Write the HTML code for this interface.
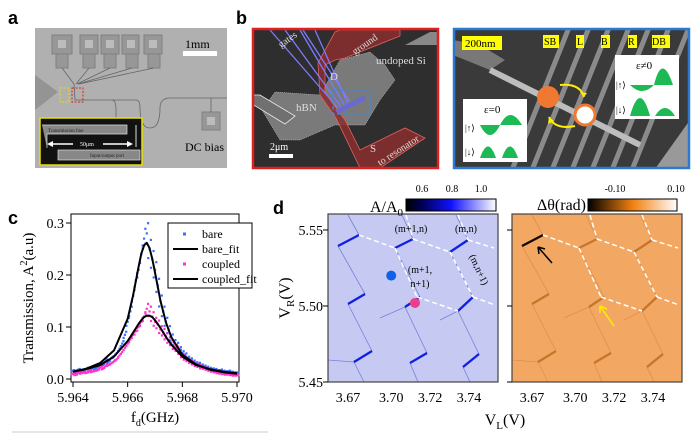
<!DOCTYPE html>
<html><head><meta charset="utf-8"><style>
body{margin:0;background:#fff;width:700px;height:436px;overflow:hidden}
svg{display:block}
.ser{font-family:"Liberation Serif",serif}
.sans{font-family:"Liberation Sans",sans-serif}
</style></head><body>
<svg id="fig" width="700" height="436" viewBox="0 0 700 436" xmlns="http://www.w3.org/2000/svg">
<defs>
<linearGradient id="gBlue" x1="0" x2="1"><stop offset="0" stop-color="#000"/><stop offset="0.2" stop-color="#000060"/><stop offset="0.5" stop-color="#1010ff"/><stop offset="1" stop-color="#fff"/></linearGradient>
<linearGradient id="gOr" x1="0" x2="1"><stop offset="0" stop-color="#000"/><stop offset="0.5" stop-color="#f08010"/><stop offset="1" stop-color="#fff"/></linearGradient>
<clipPath id="clipB1"><rect x="252" y="28" width="187" height="141"/></clipPath>
<clipPath id="clipB2"><rect x="453" y="28" width="237" height="141"/></clipPath>
</defs>

<!-- Panel a -->
<text class="sans" x="8" y="24" font-size="18" font-weight="bold">a</text>
<g>
<rect x="35" y="28" width="192" height="140" fill="#b0b0b0"/>
<g fill="#979797" stroke="#808080" stroke-width="1">
<rect x="52" y="35" width="20" height="19"/><rect x="80" y="35" width="18" height="19"/><rect x="101" y="35" width="18" height="19"/><rect x="122" y="35" width="17" height="19"/><rect x="144" y="35" width="18" height="19"/>
<rect x="56" y="54" width="12" height="14"/><rect x="83" y="54" width="12" height="14"/><rect x="104" y="54" width="12" height="14"/><rect x="126" y="54" width="12" height="14"/><rect x="148" y="54" width="12" height="14"/>
<rect x="202" y="112" width="18" height="18"/>
</g>
<g fill="#bcbcbc"><rect x="58" y="40" width="8" height="8"/><rect x="85" y="40" width="8" height="8"/><rect x="106" y="40" width="8" height="8"/><rect x="127" y="40" width="8" height="8"/><rect x="149" y="40" width="8" height="8"/><rect x="207" y="117" width="8" height="8"/></g>
<g stroke="#666" stroke-width="0.8" fill="none">
<path d="M62 68 L74 84 M89 68 L76 84 M110 68 L77 84 M132 68 L78 84 M154 68 L79 84"/>
<path d="M74 84 L75 100 L112 100 Q116 100 116 110 L116 118"/>
<path d="M112 100 L136 100 Q140 100 140 108 Q140 128 150 128 Q160 128 160 108 Q160 98 170 98 L227 98"/>
<path d="M211 98 L211 112"/>
</g>
<path d="M35 75 L58 92 L35 110 Z" fill="#949494"/>
<rect x="60" y="88" width="9" height="14" fill="none" stroke="#e8e000" stroke-dasharray="2,1.5"/>
<rect x="72" y="88" width="11" height="14" fill="none" stroke="#e02020" stroke-dasharray="2,1.5"/>
<text class="ser" x="185" y="48" font-size="12" fill="#000">1mm</text>
<rect x="183" y="51" width="34" height="5" fill="#fff"/>
<text class="ser" x="185" y="151" font-size="12" fill="#000">DC bias</text>
<g>
<rect x="40" y="118" width="102" height="47" fill="#111" stroke="#e8e000" stroke-width="1.5"/>
<path d="M42 125 L127 125 L127 134 L47 134 L47 148" fill="#888" stroke="#ddd" stroke-width="0.7"/>
<rect x="58" y="150" width="82" height="10" fill="#888" stroke="#ddd" stroke-width="0.7"/>
<path d="M136 125 L136 147" stroke="#ddd"/>
<text class="ser" x="48" y="132" font-size="5" fill="#222">Transmission line</text>
<text class="ser" x="90" y="157" font-size="5" fill="#222">Input/output port</text>
<text class="ser" x="80" y="146" font-size="6" fill="#fff">50μm</text>
<path d="M50 144 L73 144 M103 144 L130 144" stroke="#fff" stroke-width="1.5"/>
<path d="M47 144 L53 141 L53 147Z M133 144 L127 141 L127 147Z" fill="#fff"/>
</g>
</g>

<!-- Panel b -->
<text class="sans" x="236" y="24" font-size="18" font-weight="bold">b</text>
<g clip-path="url(#clipB1)">
<rect x="252" y="28" width="187" height="141" fill="#2e2e2e"/>
<path d="M280 140 L262 110 L275 92 L320 95 L340 60 L370 52 L385 65 L395 80 L380 100 L365 125 L335 125 L300 140Z" fill="#7a7a7a" stroke="#ddd" stroke-width="0.5" stroke-dasharray="1,1"/>
<path d="M252 95 L260 95 L295 116 L285 124 L252 104Z" fill="#707070" stroke="#eee" stroke-width="0.8"/>
<path d="M405 45 L430 32 L439 32 L439 45 L415 45Z" fill="#888"/>
<path d="M335 32 L340 30 L400 30 L400 36 L345 58 L335 60 L325 65 L325 92 L333 104 L345 120 L360 150 L405 128 L425 138 L380 168 L360 168 L336 118 L320 95 L318 63 Z" fill="#8a2d2d" fill-opacity="0.85" stroke="#e46060" stroke-width="0.8"/>
<g stroke="#7b7bff" stroke-width="1.3" fill="none">
<path d="M270 30 L338 108 M285 30 L342 108 M300 30 L345 106 M315 30 L348 104 M303 30 L350 102"/>
</g>
<path d="M335 110 L364 95 L366 100 L338 114Z" fill="#6a6acc"/>
<rect x="333" y="90" width="37" height="24" fill="none" stroke="#3a8ae0" stroke-width="1.2" stroke-dasharray="4,2"/>
<text class="ser" x="281" y="48" font-size="10" fill="#ddd" transform="rotate(-35 281 48)">gates</text>
<text class="ser" x="355" y="55" font-size="10" fill="#ddd" transform="rotate(-35 355 55)">ground</text>
<text class="ser" x="376" y="64" font-size="11" fill="#ddd">undoped Si</text>
<text class="ser" x="296" y="111" font-size="11" fill="#ddd">hBN</text>
<text class="ser" x="330" y="80" font-size="11" fill="#ddd">D</text>
<text class="ser" x="370" y="152" font-size="11" fill="#ddd">S</text>
<text class="ser" x="380" y="166" font-size="10" fill="#ddd" transform="rotate(-33 380 166)">to resonator</text>
<text class="ser" x="270" y="150" font-size="10" fill="#fff">2μm</text>
<rect x="269" y="154" width="24" height="4" fill="#fff"/>
</g>
<rect x="253" y="29" width="185" height="139" fill="none" stroke="#e02020" stroke-width="2.5"/>

<g clip-path="url(#clipB2)">
<rect x="453" y="28" width="237" height="141" fill="#3a3a3a"/>
<g stroke="#9a9a9a" stroke-width="5" opacity="0.85">
<path d="M510 175 L570 25 M530 175 L590 25 M550 175 L610 25 M570 175 L630 25 M590 175 L650 25 M610 175 L670 25 M630 175 L690 25"/>
</g>
<path d="M453 55 L490 70 L505 60 L480 45 L453 40Z" fill="#888" opacity="0.8"/>
<path d="M655 169 L690 120 L690 169Z" fill="#999"/>
<path d="M490 70 L640 145" stroke="#bdbdbd" stroke-width="6"/>
<rect x="462" y="36" width="40" height="14" fill="#ffff00"/>
<text class="ser" x="465" y="47" font-size="11" fill="#000">200nm</text>
<g font-size="10" class="ser" fill="#000">
<rect x="543" y="35" width="16" height="13" fill="#ffff00"/><text x="544" y="45">SB</text>
<rect x="576" y="35" width="8" height="13" fill="#ffff00"/><text x="577" y="45">L</text>
<rect x="601" y="35" width="9" height="13" fill="#ffff00"/><text x="601" y="45">B</text>
<rect x="628" y="35" width="9" height="13" fill="#ffff00"/><text x="628" y="45">R</text>
<rect x="652" y="35" width="18" height="13" fill="#ffff00"/><text x="652" y="45">DB</text>
</g>
<circle cx="548" cy="97" r="11" fill="#f07830"/>
<circle cx="585" cy="115" r="10" fill="#fff" stroke="#f07830" stroke-width="3"/>
<path d="M560 85 Q580 83 584 97" fill="none" stroke="#ffee00" stroke-width="2"/>
<path d="M584 97 L580 92 L587 93Z" fill="#ffee00"/>
<path d="M575 126 Q555 130 549 117" fill="none" stroke="#ffee00" stroke-width="2"/>
<path d="M549 117 L548 124 L554 121Z" fill="#ffee00"/>
<g>
<rect x="463" y="99" width="64" height="63" fill="#fff"/>
<text class="ser" x="484" y="113" font-size="11">ε=0</text>
<text class="ser" x="465" y="131" font-size="9">|↑⟩</text>
<text class="ser" x="465" y="155" font-size="9">|↓⟩</text>
<path d="M480 125 Q490 145 500 125 Q510 105 522 125Z" fill="#1db954"/>
<path d="M480 158 Q488 135 496 158Z M502 158 Q510 135 518 158Z" fill="#1db954"/>
</g>
<g>
<rect x="615" y="55" width="64" height="64" fill="#fff"/>
<text class="ser" x="636" y="69" font-size="11">ε≠0</text>
<text class="ser" x="616" y="88" font-size="9">|↑⟩</text>
<text class="ser" x="616" y="113" font-size="9">|↓⟩</text>
<path d="M630 85 Q642 97 654 85 Q662 52 673 85Z" fill="#1db954"/>
<path d="M630 116 Q640 80 650 116Z M655 116 Q665 100 675 116Z" fill="#1db954"/>
</g>
</g>
<rect x="454" y="29" width="235" height="139" fill="none" stroke="#2a7ad0" stroke-width="2.5"/>

<!-- Panel c -->
<text class="sans" x="8" y="224" font-size="18" font-weight="bold">c</text>
<g id="chartC"></g>
<line x1="12" y1="432" x2="268" y2="432" stroke="#ccc"/>

<!-- Panel d -->
<text class="sans" x="273" y="214" font-size="18" font-weight="bold">d</text>
<g id="chartD"></g>
</svg>

<script>
// ---- Panel c data ----
const cFreqStart = 5.964;
const cFreqStep = 0.0001;
const bareValues = [.016,.012,.018,.014,.017,.020,.016,.021,.019,.023,
 .030,.027,.035,.033,.040,.044,.050,.058,.068,.085,
 .11,.13,.16,.19,.21,.24,.27,.28,.25,.23,
 .21,.18,.15,.13,.11,.095,.08,.07,.065,.057,
 .05,.046,.04,.037,.033,.030,.029,.026,.024,.022,
 .020,.019,.018,.016,.017,.015,.014,.015,.013,.012,.012];
const coupledValues = [.010,.008,.012,.011,.013,.012,.015,.014,.016,.017,
 .022,.020,.025,.027,.030,.034,.038,.045,.052,.060,
 .068,.076,.085,.092,.10,.11,.12,.135,.13,.12,
 .11,.105,.095,.09,.082,.075,.07,.062,.058,.052,
 .045,.040,.037,.033,.030,.027,.025,.022,.021,.019,
 .017,.015,.014,.012,.011,.010,.009,.009,.008,.007,.007];
const fitFreqs = [5.964,5.9645,5.965,5.9655,5.966,5.9662,5.9664,5.9665,5.9666,5.9667,5.9668,5.9669,5.967,5.9672,5.9674,5.9676,5.968,5.9685,5.969,5.9695,5.970];
const bareFit = [.014,.020,.031,.055,.116,.161,.216,.241,.257,.262,.252,.231,.205,.150,.109,.080,.047,.028,.018,.013,.010];
const coupledFit = [.014,.019,.027,.043,.073,.089,.106,.113,.119,.122,.122,.119,.113,.098,.081,.066,.043,.027,.019,.014,.011];
const cXTicks = [5.964,5.966,5.968,5.970];
const cXTickLabels = ["5.964","5.966","5.968","5.970"];
const cYTicks = [0,0.1,0.2,0.3];
const cYTickLabels = ["0.0","0.1","0.2","0.3"];
const legendLabels = ["bare","bare_fit","coupled","coupled_fit"];

// ---- Panel d data ----
const dYTicks = [5.45,5.50,5.55];
const dYTickLabels = ["5.45","5.50","5.55"];
const dXTicks = [3.675,3.695,3.713,3.731];
const dXTickLabels = ["3.67","3.70","3.72","3.74"];
const cbarLeftLabels = ["0.6","0.8","1.0"];
const cbarRightLabels = ["-0.10","0.10"];

const NS = "http://www.w3.org/2000/svg";
function mk(tag, attrs, parent){const e=document.createElementNS(NS,tag);for(const k in attrs)e.setAttribute(k,attrs[k]);parent.appendChild(e);return e;}

// Panel c scales
const cx = f => 73 + (f - 5.964) / 0.006 * 164;
const cy = v => 379 - v * 520;
const gc = document.getElementById('chartC');
const frame = mk('rect',{x:71,y:214,width:168,height:168,fill:'#fff',stroke:'#000','stroke-width':1},gc);


cYTicks.forEach((t,i)=>{
  const y=cy(t);
  const l=mk('line',{x1:66,y1:y,x2:71,y2:y,stroke:'#000'},gc);
  
  
  const tx=mk('text',{x:64,y:y+5,'text-anchor':'end','font-size':14,class:'ser'},gc);
  tx.textContent=cYTickLabels[i];
  
  
});
cXTicks.forEach((t,i)=>{
  const x=cx(t);
  const l=mk('line',{x1:x,y1:382,x2:x,y2:387,stroke:'#000'},gc);
  
  
  const tx=mk('text',{x:x,y:402,'text-anchor':'middle','font-size':14,class:'ser'},gc);
  tx.textContent=cXTickLabels[i];
  
  
});
const xt=mk('text',{x:155,y:422,'text-anchor':'middle','font-size':15,class:'ser'},gc);
xt.innerHTML='f<tspan font-size="10" dy="4">d</tspan><tspan dy="-4">(GHz)</tspan>';


const yt=mk('text',{x:0,y:0,'text-anchor':'middle','font-size':15,class:'ser',transform:'translate(33,298) rotate(-90)'},gc);
yt.innerHTML='Transmission, A<tspan font-size="10" dy="-6">2</tspan><tspan dy="6">(a.u)</tspan>';


function drawDots(vals,color,name){
  vals.forEach((v,i)=>{
    const f=cFreqStart+i*cFreqStep;
    [[0,1],[1.3,1.07],[-1.3,0.93]].forEach(o=>{
      const d=mk('rect',{x:cx(f)+o[0]-1.1,y:cy(v*o[1])-1.1,width:2.2,height:2.2,fill:color},gc);
      
      
    });
  });
}
drawDots(bareValues,'#3a6fff','bare-point');
drawDots(coupledValues,'#ff33cc','coupled-point');
function drawLine(xs,ys,name){
  const p=xs.map((f,i)=>(i?'L':'M')+cx(f).toFixed(1)+' '+cy(ys[i]).toFixed(1)).join(' ');
  const l=mk('path',{d:p,fill:'none',stroke:'#000','stroke-width':2,'stroke-linejoin':'round'},gc);
  
  
}
drawLine(fitFreqs,bareFit,'bare-fit-line');
drawLine(fitFreqs,coupledFit,'coupled-fit-line');
const lg=mk('g',{},gc);


mk('rect',{x:168,y:223,width:84,height:65,fill:'#fff',stroke:'#000'},lg);
legendLabels.forEach((lab,i)=>{
  const y=234+i*15;
  if(i%2===0){mk('rect',{x:183,y:y-1.5,width:3,height:3,fill:i===0?'#3a6fff':'#ff33cc'},lg);}
  else{mk('line',{x1:173,y1:y,x2:198,y2:y,stroke:'#000','stroke-width':2},lg);}
  const t=mk('text',{x:202,y:y+4,'font-size':12,class:'ser'},lg);
  t.textContent=lab;
  
  
});

// Panel d
const gd=document.getElementById('chartD');
const dy = v => 382 - (v - 5.45) / 0.1 * 152;
const dxL = v => 348 + (v - 3.675) / 0.056 * 121;
function plot(ox,bg,segColors,segOp,thin,thinOp,name){
  const g=mk('g',{},gd);
  
  
  mk('rect',{x:328+ox,y:214,width:170,height:168,fill:bg},g);
  const thick=[[338,246,359,235],[395,248,413,239],[450,252,468,240],[348,304,365,294],[405,307,420,297],[458,311,473,297],[354,362,372,351],[410,363,427,353],[463,367,479,354]];
  const thins=[[348,215,359,235],[338,246,365,294],[348,304,372,351],[354,362,364,382],[402,215,413,239],[395,248,420,297],[405,307,427,353],[410,363,418,382],[456,215,468,240],[450,252,473,297],[458,311,479,354],[463,367,470,382],[328,360,354,362],[380,318,405,307],[440,320,458,311]];
  thins.forEach(s=>mk('line',{x1:s[0]+ox,y1:s[1],x2:s[2]+ox,y2:s[3],stroke:thin,'stroke-width':0.8,opacity:thinOp},g));
  thick.forEach((s,i)=>mk('line',{x1:s[0]+ox,y1:s[1],x2:s[2]+ox,y2:s[3],stroke:segColors[i]||segColors[1],'stroke-width':2.3,opacity:i===0?1:segOp},g));
  const dash=[[359,235,395,248],[395,248,417,297],[417,297,458,311],[413,239,450,252],[450,252,473,297],[473,297,495,305],[468,240,494,248],[406,215,413,239],[458,215,468,240]];
  dash.forEach(s=>mk('line',{x1:s[0]+ox,y1:s[1],x2:s[2]+ox,y2:s[3],stroke:'#fff','stroke-width':1.5,'stroke-dasharray':'5,3'},g));
  mk('rect',{x:328+ox,y:214,width:170,height:168,fill:'none',stroke:'#444','stroke-width':1.2},g);
  return g;
}
const gl=plot(0,'#c6c9f1',['#1020e0','#1020e0'],1,'#4050d0',0.6,'amplitude-map');
const gr=plot(184,'#f2a862',['#150800','#b86418'],0.75,'#c87838',0.5,'phase-map');
const dots=[[3.695,5.52,'#1060e8','blue-marker'],[3.706,5.502,'#f03c8c','pink-marker']];
dots.forEach(d=>{
  const c=mk('circle',{cx:dxL(d[0]),cy:dy(d[1]),r:5,fill:d[2]},gl);
  
  
});
[['(m+1,n)',411,232],['(m,n)',466,232],['(m+1,',420,273],['n+1)',420,287]].forEach(t=>{
  const e=mk('text',{x:t[1],y:t[2],'text-anchor':'middle','font-size':10,class:'ser'},gl);
  e.textContent=t[0];
  
  
});
const rl=mk('text',{x:0,y:0,'text-anchor':'middle','font-size':10,class:'ser',transform:'translate(476,271) rotate(65)'},gl);
rl.textContent='(m,n+1)';


const a1=mk('path',{d:'M552 263 L538 247 M538 247 L539 254 M538 247 L545 249',stroke:'#000','stroke-width':1.5,fill:'none'},gr);


const a2=mk('path',{d:'M614 326 L600 306 M600 306 L600 313 M600 306 L607 309',stroke:'#ffee00','stroke-width':1.5,fill:'none'},gr);


dYTicks.forEach((t,i)=>{
  [328,512].forEach(x0=>{
    const l=mk('line',{x1:x0-5,y1:dy(t),x2:x0,y2:dy(t),stroke:'#000'},gd);
    
    
  });
  const tx=mk('text',{x:323,y:dy(t)+5,'text-anchor':'end','font-size':14,class:'ser'},gd);
  tx.textContent=dYTickLabels[i];
  
  
});
dXTicks.forEach((t,i)=>{
  [0,184].forEach(ox=>{
    const tx=mk('text',{x:dxL(t)+ox,y:402,'text-anchor':'middle','font-size':14,class:'ser'},gd);
    tx.textContent=dXTickLabels[i];
    
    
  });
});
const vl=mk('text',{x:505,y:425,'text-anchor':'middle','font-size':16,class:'ser'},gd);
vl.innerHTML='V<tspan font-size="11" dy="4">L</tspan><tspan dy="-4">(V)</tspan>';


const vr=mk('text',{x:0,y:0,'text-anchor':'middle','font-size':16,class:'ser',transform:'translate(290,298) rotate(-90)'},gd);
vr.innerHTML='V<tspan font-size="11" dy="4">R</tspan><tspan dy="-4">(V)</tspan>';


const cb1=mk('rect',{x:406,y:199,width:90,height:12,fill:'url(#gBlue)',stroke:'#000'},gd);


const cb2=mk('rect',{x:588,y:199,width:89,height:12,fill:'url(#gOr)',stroke:'#000'},gd);


[422,452,481].forEach((x,i)=>{
  const t=mk('text',{x:x,y:192,'text-anchor':'middle','font-size':10,class:'ser'},gd);
  t.textContent=cbarLeftLabels[i];
  
  
});
[615,676].forEach((x,i)=>{
  const t=mk('text',{x:x,y:192,'text-anchor':'middle','font-size':10,class:'ser'},gd);
  t.textContent=cbarRightLabels[i];
  
  
});
const at=mk('text',{x:403,y:212,'text-anchor':'end','font-size':16,class:'ser'},gd);
at.innerHTML='A/A<tspan font-size="11" dy="4">0</tspan>';


const pt=mk('text',{x:586,y:210,'text-anchor':'end','font-size':16,class:'ser'},gd);
pt.textContent='Δθ(rad)';


</script>
</body></html>
